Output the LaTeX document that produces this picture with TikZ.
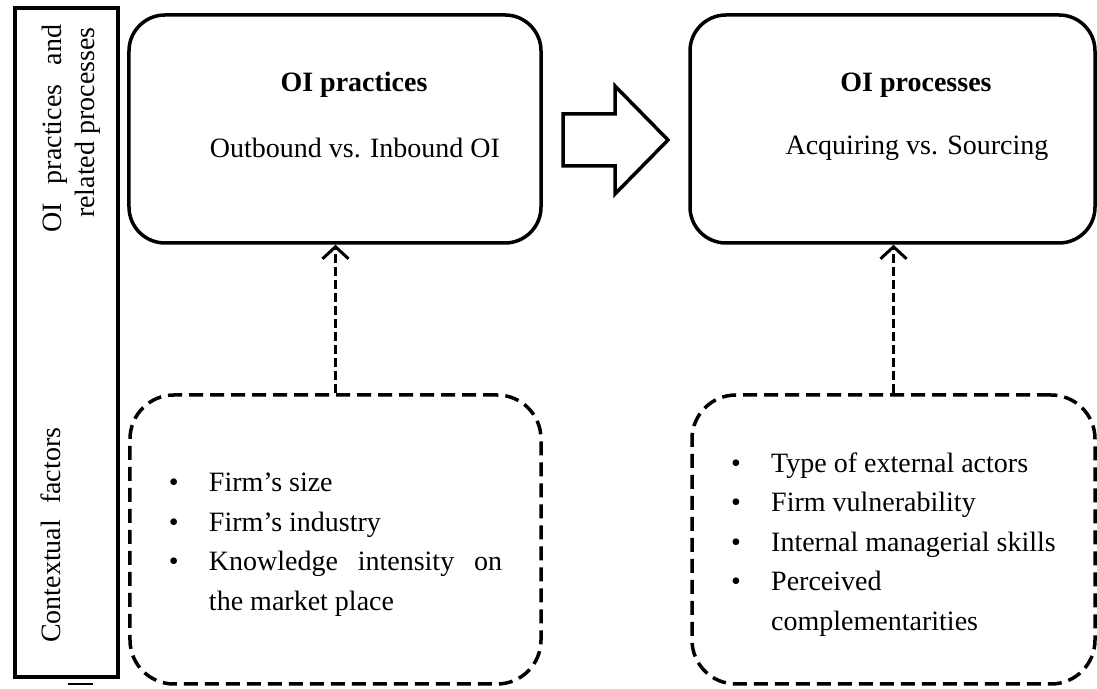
\documentclass[tikz,border=0pt]{standalone}
\usepackage{fontspec}
\setmainfont{Liberation Serif}
\usetikzlibrary{arrows.meta}
\begin{document}
\begin{tikzpicture}[x=1bp,y=1bp,
  txt/.style={font=\fontsize{28bp}{39.5bp}\selectfont, inner sep=0pt},
  headtxt/.style={txt, font=\fontsize{28bp}{39.5bp}\selectfont\bfseries},
  solidbox/.style={draw, line width=3.5bp, rounded corners=36bp, minimum height=228bp, inner sep=0pt},
  dashbox/.style={draw, line width=3.5bp, dash pattern=on 14bp off 7bp, rounded corners=44bp,
    minimum height=289bp, inner sep=0pt},
  listtxt/.style={txt, align=left},
  sidelabel/.style={txt, rotate=90, anchor=base west},
  conn/.style={line width=3bp, dash pattern=on 9bp off 4bp,
    -{Straight Barb[length=12bp,width=26bp,line width=3bp]}},
  blockarrow/.style={draw, line width=3.5bp, line join=miter},
]
\useasboundingbox (0,0) rectangle (1097,689);

% side bar with row titles
\node[draw, line width=3.5bp, minimum width=103bp, minimum height=669bp, inner sep=0pt] (side) at (66.5,346.5) {};
\draw[line width=1.5bp] ([shift={(1,-5)}]side.south) -- ++(25,0);
\node[sidelabel] (sideA) at (61,456) {\makebox[208bp][s]{OI practices and}};
\node[sidelabel] (sideB) at (94,471) {related processes};
\node[sidelabel] (sideC) at (60,46) {\makebox[215bp][s]{Contextual factors}};

% upper row
\node[solidbox, minimum width=412bp] (prac) at (335,560) {};
\node[solidbox, minimum width=405bp] (proc) at (892.5,560) {};
\node[headtxt] (pracT) at (354,604) {OI practices};
\node[txt] (pracS) at (355,541) {Outbound vs. Inbound OI};
\node[headtxt] (procT) at (916,604) {OI processes};
\node[txt] (procS) at (917,541) {Acquiring vs. Sourcing};

% block arrow between practices and processes
\path[blockarrow] (563,523) -- (615,523) -- (615,495) -- (668,549) -- (615,603) -- (615,575) -- (563,575) -- cycle;

% contextual factors
\node[dashbox, minimum width=411bp] (ctxA) at (335.5,149.5) {};
\node[dashbox, minimum width=403bp] (ctxB) at (893.5,149.5) {};
\node[listtxt] (ctxAlist) at ([yshift=-5bp]ctxA.center) {%
\makebox[40bp][l]{\textbullet}Firm’s size\\
\makebox[40bp][l]{\textbullet}Firm’s industry\\
\makebox[40bp][l]{\textbullet}\makebox[293bp][s]{Knowledge intensity on}\\
\hspace*{40bp}the market place};
\node[listtxt] (ctxBlist) at ([yshift=-5bp]ctxB.center) {%
\makebox[40bp][l]{\textbullet}Type of external actors\\
\makebox[40bp][l]{\textbullet}Firm vulnerability\\
\makebox[40bp][l]{\textbullet}Internal managerial skills\\
\makebox[40bp][l]{\textbullet}Perceived\\
\hspace*{40bp}complementarities};

% influence arrows
\draw[conn] (ctxA.north) -- (ctxA.north |- prac.south);
\draw[conn] (ctxB.north) -- (ctxB.north |- proc.south);
\end{tikzpicture}
\end{document}
